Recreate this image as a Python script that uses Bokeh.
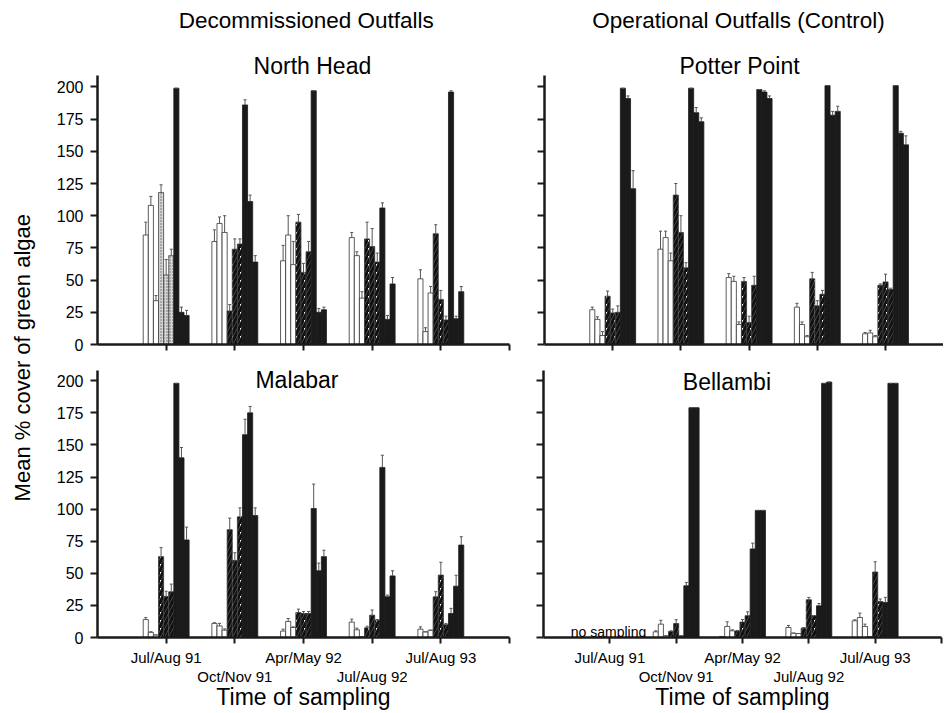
import math
from bokeh.plotting import figure
from bokeh.models import ColumnDataSource, Range1d, FixedTicker, LinearAxis, Label
from bokeh.layouts import row, column
from bokeh.embed import file_html
from bokeh.resources import INLINE

# ---------------- data ----------------
periods = ["Jul/Aug 91", "Oct/Nov 91", "Apr/May 92", "Jul/Aug 92", "Jul/Aug 93"]
y_ticks = [0, 25, 50, 75, 100, 125, 150, 175, 200]
bar_kinds = ["open", "open", "open", "hatched", "hatched", "hatched", "solid", "solid", "solid"]

north_head_mean = [
    [85, 108, 34, 118, 54, 69, 199, 25, 22.5],
    [80, 94, 87, 26, 74, 78, 186, 111, 64],
    [65, 85, 62, 95, 56, 72, 197, 25, 27],
    [83, 69, 36, 82, 76, 64, 106, 19.5, 47],
    [51, 10, 40, 86, 35, 19, 196, 20, 41],
]
north_head_se = [
    [10, 7, 4, 6, 12, 5, 0, 4, 4],
    [9, 5, 13, 5, 8, 4, 4, 5, 5],
    [12, 15, 18, 6, 7, 8, 0, 3, 2],
    [4, 3, 5, 13, 14, 7, 4, 3, 5],
    [7, 3, 5, 7, 7, 3, 1, 2, 4],
]

potter_point_mean = [
    [27, 19.5, 7, 37.5, 24.5, 25, 199, 191, 121],
    [74, 83, 65, 116, 87, 59.5, 199, 180, 173],
    [52, 49, 15.5, 49, 17, 46, 198, 196, 191],
    [29, 15.5, 6, 51, 30, 39, 201, 178, 181],
    [8.3, 9, 6, 46, 48.6, 42.7, 201, 164, 155],
]
potter_point_se = [
    [2, 2, 3, 4, 3, 5, 0, 2, 14],
    [14, 5, 6, 9, 13, 4, 0, 4, 3],
    [3, 4, 2, 3, 5, 7, 0, 1, 2],
    [3, 2, 1, 5, 4, 3, 0, 3, 4],
    [1, 2, 1, 1, 6, 1, 0, 1.5, 7],
]

malabar_mean = [
    [14, 4, 2, 63, 32, 35.6, 198, 140, 76],
    [11, 9, 5.7, 84, 60, 94, 158, 175, 95],
    [5, 12.5, 7.8, 19.5, 18.7, 18.7, 100.5, 52, 63],
    [12, 6, 0.5, 7.5, 17.4, 13.5, 132.5, 31.7, 48],
    [6.5, 4.4, 5.7, 31.7, 48.6, 10, 18.7, 40, 72],
]
malabar_se = [
    [1.5, 0.5, 0, 7, 4, 6, 0, 8, 10],
    [0.5, 2, 1, 9, 6, 7, 12, 5, 6],
    [1.5, 2.3, 0.5, 2.6, 1.6, 1.6, 19, 6, 5],
    [2.3, 1.3, 0, 1.3, 4, 0.5, 9.5, 1.3, 4],
    [1.8, 0, 0, 4, 10, 1, 4, 8.5, 6.5],
]

bellambi_mean = [
    [None] * 9,
    [4.4, 10.4, 1.3, 4.7, 10.9, 1.3, 40.3, 179, 179],
    [0.8, 8.6, 5.2, 5, 12, 17, 69, 99, 99],
    [7.8, 3.4, 3.1, 7.3, 29.4, 17, 24.7, 198, 199],
    [13, 15.6, 8.6, 0.5, 51, 28, 27.3, 198, 198],
]
bellambi_se = [
    [None] * 9,
    [0.8, 3, 0, 0.5, 3, 0, 2.6, 0, 0],
    [0, 3.6, 0.8, 0.5, 2, 3, 4.5, 0, 0],
    [1.6, 0, 0, 0.5, 1.8, 0, 1.8, 0, 0],
    [0.8, 3.4, 1.8, 0, 8, 2, 4, 0, 0],
]

# ---------------- styling ----------------
FONT = "Liberation Sans"
BAR_PX = 5.1
INK = "#1a1a1a"


def panel(means, ses, *, width, height, mb_left, mb_right, mb_top, mb_bottom,
          x_end, y_end, axis_top, y_labels, bottom_labels, stipple_group=None):
    frame_w = width - mb_left - mb_right
    p = figure(width=width, height=height, x_range=Range1d(0, x_end), y_range=Range1d(0, y_end),
               output_backend="svg", toolbar_location=None,
               min_border_left=mb_left, min_border_right=mb_right,
               min_border_top=mb_top, min_border_bottom=mb_bottom)
    p.outline_line_color = None
    p.grid.visible = False
    p.background_fill_color = "white"
    p.border_fill_color = "white"

    bw = BAR_PX * x_end / frame_w
    data = {k: dict(x=[], top=[], err=[]) for k in ("open", "hatched", "solid", "stipple")}
    for g, (mrow, srow) in enumerate(zip(means, ses)):
        for i, (m, s) in enumerate(zip(mrow, srow)):
            if m is None:
                continue
            kind = bar_kinds[i]
            if stipple_group == g and kind == "hatched":
                kind = "stipple"
            data[kind]["x"].append(g + 1 + (i - 4) * bw)
            data[kind]["top"].append(m)
            data[kind]["err"].append(s)

    styles = {
        "open": dict(fill_color="white", line_color="#333333", line_width=0.8),
        "stipple": dict(fill_color="#d4d4d4", line_color="#444444", line_width=0.8,
                        hatch_pattern="dot", hatch_color="#666666", hatch_scale=3, hatch_weight=1),
        "hatched": dict(fill_color="white", line_color="#333333", line_width=0.8,
                        hatch_pattern="/", hatch_color="#111111", hatch_scale=8, hatch_weight=3.4),
        "solid": dict(fill_color=INK, line_color=INK, line_width=0.8),
    }
    for kind in ("open", "stipple", "hatched", "solid"):
        d = data[kind]
        if not d["x"]:
            continue
        src = ColumnDataSource(dict(
            x=d["x"], top=d["top"],
            etop=[t + e for t, e in zip(d["top"], d["err"])],
            cx0=[x - bw * 0.3 for x in d["x"]],
            cx1=[x + bw * 0.3 for x in d["x"]],
        ))
        p.vbar(x="x", top="top", bottom=0, width=bw, source=src, **styles[kind])
        p.segment(x0="x", y0="top", x1="x", y1="etop", source=src, line_color="#555555", line_width=1)
        p.segment(x0="cx0", y0="etop", x1="cx1", y1="etop", source=src, line_color="#555555", line_width=1)

    # y axis
    ya = p.yaxis[0]
    ya.ticker = FixedTicker(ticks=y_ticks, minor_ticks=[])
    ya.bounds = (0, axis_top)
    ya.axis_line_width = 2.5
    ya.axis_line_color = INK
    ya.major_tick_line_width = 2
    ya.major_tick_line_color = INK
    ya.major_tick_out = 7
    ya.major_tick_in = 0
    ya.minor_tick_line_color = None
    ya.major_label_text_font = FONT
    ya.major_label_text_font_size = "16px"
    ya.major_label_text_color = "black"
    ya.major_label_standoff = 7
    if not y_labels:
        ya.major_label_overrides = {t: "" for t in y_ticks}

    # x axis
    x_ticks = [t for t in [1, 2, 3, 4, 5, 6] if t <= x_end]
    xa = p.xaxis[0]
    xa.ticker = FixedTicker(ticks=x_ticks, minor_ticks=[])
    xa.axis_line_width = 2.5
    xa.axis_line_color = INK
    xa.major_tick_line_width = 2
    xa.major_tick_line_color = INK
    xa.major_tick_out = 6
    xa.major_tick_in = 0
    xa.minor_tick_line_color = None
    xa.major_label_text_font = FONT
    xa.major_label_text_font_size = "15px"
    xa.major_label_text_color = "black"
    if bottom_labels:
        xa.major_label_standoff = 5
        upper = {t: "" for t in x_ticks}
        lower = {}
        for k, name in enumerate(periods):
            if k % 2 == 0:
                upper[k + 1] = name
            else:
                lower[k + 1] = name
        xa.major_label_overrides = upper
        xb = LinearAxis(ticker=FixedTicker(ticks=list(lower.keys()), minor_ticks=[]),
                        major_label_overrides=lower,
                        axis_line_color=None, major_tick_line_color=None,
                        minor_tick_line_color=None, major_tick_out=0, major_tick_in=0,
                        major_label_standoff=-1,
                        major_label_text_font=FONT, major_label_text_font_size="15px",
                        major_label_text_color="black",
                        axis_label="Time of sampling", axis_label_standoff=-4,
                        axis_label_text_font=FONT, axis_label_text_font_size="23px",
                        axis_label_text_font_style="normal", axis_label_text_color="black")
        p.add_layout(xb, "below")
    else:
        xa.major_label_standoff = 0
        xa.major_label_overrides = {t: "" for t in x_ticks}
    return p


def add_text(p, text, x, y, size="23px", align="center"):
    p.add_layout(Label(x=x, y=y, text=text, text_align=align, text_baseline="middle",
                       text_font=FONT, text_font_size=size, text_color="black"))


# ---------------- panels ----------------
LEFT_W, RIGHT_W = 470, 425
TOP_H, BOT_H = 356, 357

# top row: frame runs from the top of the canvas, axis line limited to 0..209
p_nh = panel(north_head_mean, north_head_se, width=LEFT_W, height=TOP_H,
             mb_left=49, mb_right=9, mb_top=0, mb_bottom=12, x_end=6, y_end=267.1, axis_top=209,
             y_labels=True, bottom_labels=False, stipple_group=0)
add_text(p_nh, "Decommissioned Outfalls", 3.04, 251.2, size="22.5px")
add_text(p_nh, "North Head", 3.13, 216.2)

p_pp = panel(potter_point_mean, potter_point_se, width=RIGHT_W, height=TOP_H,
             mb_left=26, mb_right=0, mb_top=0, mb_bottom=12, x_end=5.85, y_end=267.1, axis_top=209,
             y_labels=False, bottom_labels=False)
add_text(p_pp, "Operational Outfalls (Control)", 2.845, 251.2, size="22.5px")
add_text(p_pp, "Potter Point", 2.86, 216.2)

p_mb = panel(malabar_mean, malabar_se, width=LEFT_W, height=BOT_H,
             mb_left=49, mb_right=9, mb_top=14, mb_bottom=76, x_end=6, y_end=208, axis_top=208,
             y_labels=True, bottom_labels=True)
add_text(p_mb, "Malabar", 2.30, 200.6, align="left")

p_be = panel(bellambi_mean, bellambi_se, width=RIGHT_W, height=BOT_H,
             mb_left=25, mb_right=2, mb_top=14, mb_bottom=76, x_end=6, y_end=208, axis_top=208,
             y_labels=False, bottom_labels=True)
add_text(p_be, "Bellambi", 2.10, 199, align="left")
add_text(p_be, "no sampling", 0.98, 4.5, size="14px")

# y-axis title strip
p_lab = figure(width=48, height=TOP_H + BOT_H, x_range=Range1d(0, 1), y_range=Range1d(0, 1),
               x_axis_type=None, y_axis_type=None, output_backend="svg", toolbar_location=None,
               min_border=0)
p_lab.outline_line_color = None
p_lab.add_layout(Label(x=0.458, y=0.499, text="Mean % cover of green algae", angle=math.pi / 2,
                       text_align="center", text_baseline="middle", text_font=FONT,
                       text_font_size="22px", text_color="black"))

layout = row(p_lab, column(row(p_nh, p_pp), row(p_mb, p_be)))

open("out.html", "w").write(file_html(layout, INLINE))
